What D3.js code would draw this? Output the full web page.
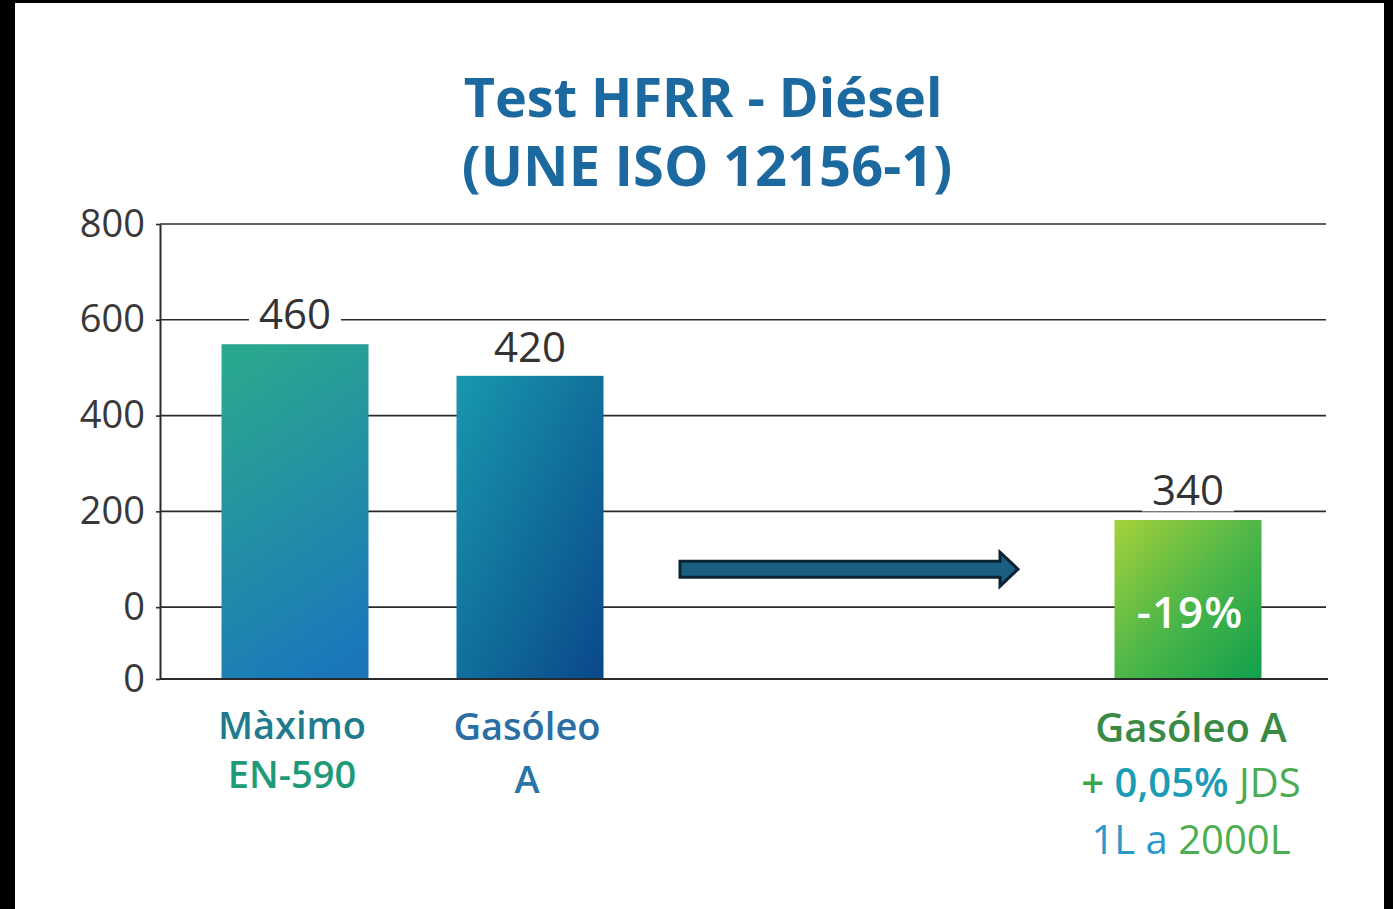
<!DOCTYPE html>
<html>
<head>
<meta charset="utf-8">
<script src="https://cdn.jsdelivr.net/npm/d3@7"></script>
<style>
  html, body { margin: 0; padding: 0; background: #000; }
  svg { display: block; }
  text { font-family: "Open Sans", "Noto Sans", sans-serif; }
</style>
</head>
<body>
<div id="chart"></div>
<script>
// chart data
const categories = ["Màximo EN-590", "Gasóleo A", "Gasóleo A + 0,05% JDS"];
const labelValues = [460, 420, 340];          // numbers printed above bars
const barValues = [549, 483, 182];            // heights as drawn on the axis
const tickValues = [800, 600, 400, 200, 0, -150];
const tickLabels = ["800", "600", "400", "200", "0", "0"];
const badge = "-19%";

const WIDTH = 1393, HEIGHT = 909;

const margin = { top: 224, bottom: 230, left: 160, right: 67 };
const width = WIDTH - margin.left - margin.right,
    height = HEIGHT - margin.top - margin.bottom;

const svg = d3.select("#chart")
    .append("svg")
    .attr("width", WIDTH)
    .attr("height", HEIGHT);

// white canvas inside the black frame
svg.append("rect")
    .attr("x", 15).attr("y", 3)
    .attr("width", 1369).attr("height", 906)
    .attr("fill", "#fff");

const defs = svg.append("defs");
const grads = [
    ["g0", "#2aa78f", "#1a78ba", "30%", "0%", "60%", "100%"],
    ["g1", "#1898ae", "#0a488a", "0%", "0%", "100%", "100%"],
    ["g2", "#a6d13a", "#10a04c", "0%", "0%", "100%", "100%"]
];
grads.forEach(([id, c0, c1, x1, y1, x2, y2]) => {
    const lg = defs.append("linearGradient").attr("id", id)
        .attr("x1", x1).attr("y1", y1).attr("x2", x2).attr("y2", y2);
    lg.append("stop").attr("offset", "0%").attr("stop-color", c0);
    if (id === "g2") lg.append("stop").attr("offset", "50%").attr("stop-color", "#4fb748");
    lg.append("stop").attr("offset", "100%").attr("stop-color", c1);
});

// title
const title = svg.append("text")
    .attr("text-anchor", "middle")
    .attr("fill", "#1c69a0")
    .attr("font-weight", 700);
title.append("tspan").attr("x", 703).attr("y", 117).attr("font-size", 54).text("Test HFRR - Diésel");
title.append("tspan").attr("x", 707).attr("y", 186).attr("font-size", 56).text("(UNE ISO 12156-1)");

const g = svg.append("g")
    .attr("transform", `translate(${margin.left}, ${margin.top})`);

const y = d3.scaleLinear()
    .domain([-150, 800])
    .range([height, 0]);

const x = d3.scaleOrdinal()
    .domain(categories)
    .range([135, 370, 1028]);
const barW = 147;

// gridlines
g.append("g")
    .selectAll("line")
    .data(tickValues)
    .join("line")
    .attr("x1", 0)
    .attr("x2", (d, i) => i === tickValues.length - 1 ? width + 2 : width)
    .attr("y1", d => y(d))
    .attr("y2", d => y(d))
    .attr("stroke", "#2a2a2a")
    .attr("stroke-width", (d, i) => i === tickValues.length - 1 ? 2 : 1.6);

// y axis
const yAxis = g.append("g")
    .call(d3.axisLeft(y)
        .tickValues(tickValues)
        .tickSizeInner(4)
        .tickSizeOuter(0)
        .tickPadding(11)
        .tickFormat((d, i) => tickLabels[i]));
yAxis.select(".domain").attr("stroke", "#2a2a2a").attr("stroke-width", 2);
yAxis.selectAll(".tick line").attr("stroke", "#2a2a2a").attr("stroke-width", 1.6);
yAxis.selectAll(".tick text")
    .attr("font-size", 38)
    .attr("fill", "#383838")
    .attr("font-family", "'Open Sans', sans-serif");

// bars
g.selectAll(".bar")
    .data(categories)
    .join("rect")
    .attr("class", "bar")
    .attr("x", d => x(d) - barW / 2)
    .attr("width", barW)
    .attr("y", (d, i) => y(barValues[i]))
    .attr("height", (d, i) => y(-150) - y(barValues[i]) - 1)
    .attr("fill", (d, i) => `url(#g${i})`);

// value labels with white knock-out
const labelY = [y(600) + 9, y(barValues[1]) - 14, y(200) - 6];
const vl = g.selectAll(".vlabel")
    .data(categories)
    .join("g")
    .attr("class", "vlabel")
    .attr("transform", (d, i) => `translate(${x(d)}, ${labelY[i]})`);
vl.append("rect")
    .attr("x", -46).attr("y", -36)
    .attr("width", 92).attr("height", 42)
    .attr("fill", "#fff");
vl.append("text")
    .attr("text-anchor", "middle")
    .attr("font-size", 42)
    .attr("fill", "#333")
    .text((d, i) => labelValues[i]);

// badge on last bar
g.append("text")
    .attr("x", x(categories[2]) + 2)
    .attr("y", y(0) + 21)
    .attr("text-anchor", "middle")
    .attr("font-size", 44)
    .attr("font-weight", 600)
    .attr("letter-spacing", 1)
    .attr("fill", "#fff")
    .text(badge);

// arrow between the groups
const ay = y(0) - 38;
const arrow = d3.path();
arrow.moveTo(520, ay - 8);
arrow.lineTo(840, ay - 8);
arrow.lineTo(840, ay - 17);
arrow.lineTo(858, ay);
arrow.lineTo(840, ay + 17);
arrow.lineTo(840, ay + 8);
arrow.lineTo(520, ay + 8);
arrow.closePath();
g.append("path")
    .attr("d", arrow.toString())
    .attr("fill", "#1a5f82")
    .attr("stroke", "#0b2433")
    .attr("stroke-width", 3);

// category labels
const catLines = [
    [[["Màximo", "#1f7b8e", 600]], [["EN-590", "#1e9a78", 600]]],
    [[["Gasóleo", "#2a6ea3", 600]], [["A", "#2a74a8", 600]]],
    [[["Gasóleo A", "#3a8a45", 600]],
     [["+ ", "#3aa44b", 600], ["0,05%", "#1b9bb5", 600], [" JDS", "#4aab52", 400]],
     [["1L a ", "#2a98c8", 400], ["2000L", "#4cae50", 400]]]
];
const lineY = [[739, 788], [740, 793], [742, 797, 854]];
const lineSize = [[38, 38], [38, 38], [40, 40, 40]];
catLines.forEach((lines, ci) => {
    lines.forEach((parts, li) => {
        const t = svg.append("text")
            .attr("x", margin.left + x(categories[ci]) + (ci === 2 ? 35 - 32 : -3))
            .attr("y", lineY[ci][li])
            .attr("text-anchor", "middle")
            .attr("font-size", lineSize[ci][li]);
        parts.forEach(([s, c, w]) => {
            t.append("tspan").attr("fill", c).attr("font-weight", w).text(s);
        });
    });
});
</script>
</body>
</html>
